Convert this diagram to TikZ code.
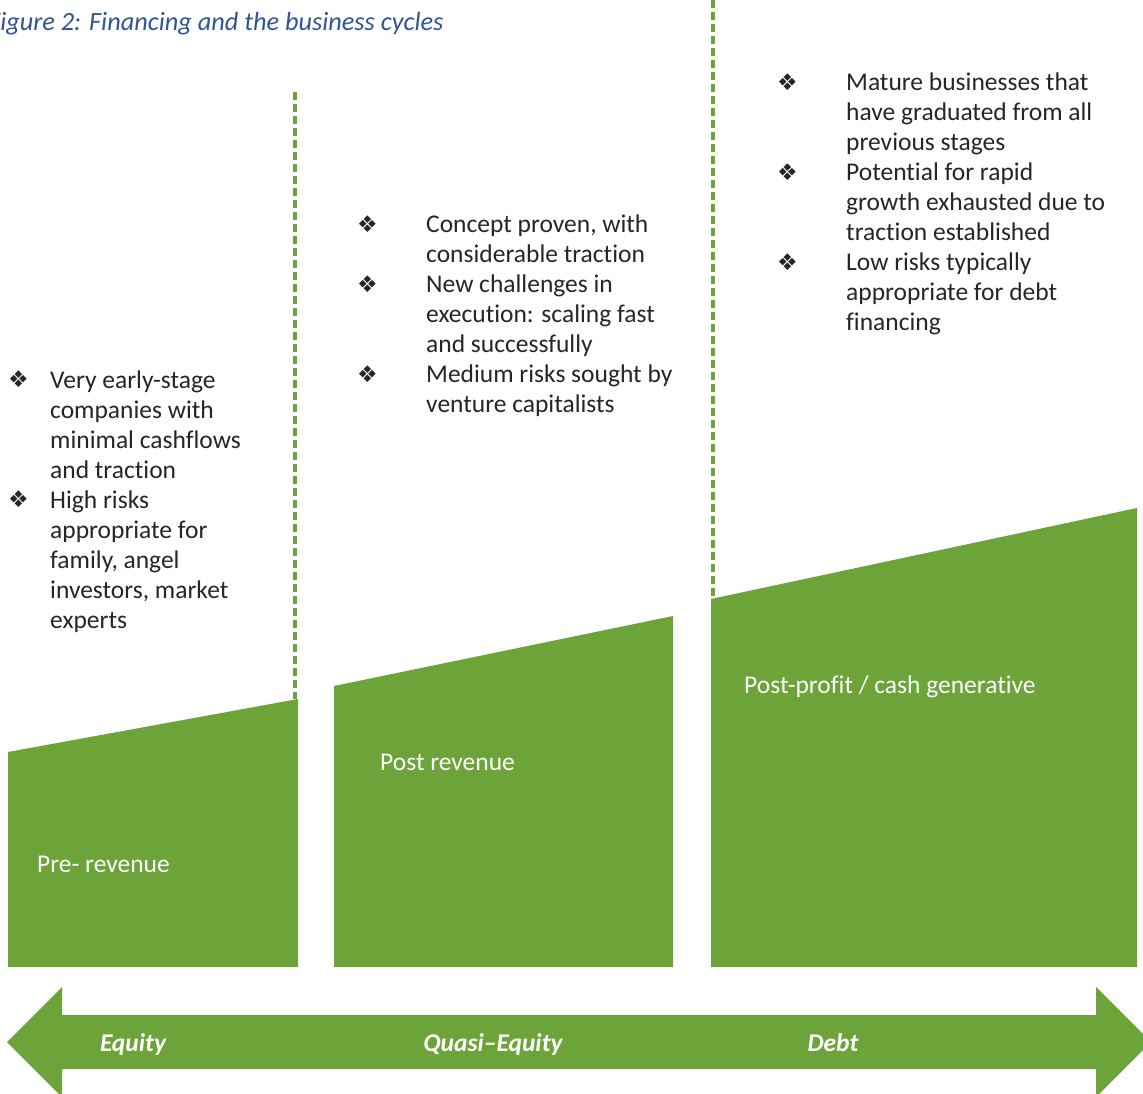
\documentclass[tikz,border=0pt]{standalone}
\usepackage{fontspec}
\setmainfont{Carlito}[Ligatures=NoCommon]
\newfontfamily\symfont{DejaVu Sans}
\definecolor{stagegreen}{HTML}{6CA43A}
\definecolor{bodytext}{HTML}{262626}
\definecolor{captionblue}{HTML}{2F5597}
% one hanging-indent bullet item; #1 = indent of the text
\newcommand{\bitem}[2]{\par\hangindent=#1\hangafter=1\noindent\makebox[#1][l]{\raisebox{0.5pt}{\symfont\fontsize{23}{23}\selectfont ❖}}#2}
\begin{document}
\begin{tikzpicture}[x=1pt,y=-1pt,
  stage/.style={fill=stagegreen,draw=none},
  divider/.style={draw=stagegreen,line width=3.2pt,dash pattern=on 8pt off 4pt},
  bullets/.style={anchor=base west,inner sep=0pt,text=bodytext,font=\fontsize{25.5}{30}\selectfont},
  stagelabel/.style={anchor=base west,inner sep=0pt,text=white,font=\fontsize{25.5}{28}\selectfont},
  bandlabel/.style={anchor=base,inner sep=0pt,text=white,font=\fontsize{25.5}{28}\selectfont\bfseries\itshape}]
\useasboundingbox (0,0) rectangle (1143,1094);
\fill[white] (0,0) rectangle (1143,1094);

% caption
\node[anchor=base west,inner sep=0pt,text=captionblue,font=\fontsize{26.3}{30}\selectfont\itshape] (caption) at (-12,31) {Figure 2: Financing and the business cycles};

% stage dividers
\draw[divider] (295,92) -- (295,699);
\draw[divider] (713,0) -- (713,640);

% stage blocks
\path[stage] (8,967) -- (8,752) -- (298,699) -- (298,967) -- cycle;
\path[stage] (334,967) -- (334,686) -- (673,616) -- (673,967) -- cycle;
\path[stage] (711,967) -- (711,599) -- (1137,508) -- (1137,967) -- cycle;

\node[stagelabel] (pre) at (37,872) {Pre- revenue};
\node[stagelabel] (post) at (380,770) {Post revenue};
\node[stagelabel] (profit) at (744,693) {Post-profit / cash generative};

% stage descriptions
\node[bullets] (early) at (8,388) {\parbox[t]{290pt}{\parskip=0pt
  \bitem{42pt}{Very early-stage\\companies with\\minimal cashflows\\and traction}
  \bitem{42pt}{High risks\\appropriate for\\family, angel\\investors, market\\experts}}};
\node[bullets] (growth) at (357,233) {\parbox[t]{330pt}{\parskip=0pt
  \bitem{69pt}{Concept proven, with\\considerable traction}
  \bitem{69pt}{New challenges in\\execution: scaling fast\\and successfully}
  \bitem{69pt}{Medium risks sought by\\venture capitalists}}};
\node[bullets] (mature) at (777,91) {\parbox[t]{364pt}{\parskip=0pt
  \bitem{69pt}{Mature businesses that\\have graduated from all\\previous stages}
  \bitem{69pt}{Potential for rapid\\growth exhausted due to\\traction established}
  \bitem{69pt}{Low risks typically\\appropriate for debt\\financing}}};

% financing band
\path[stage] (7,1042) -- (62,987) -- (62,1015) -- (1096,1015) -- (1096,987)
  -- (1151,1042) -- (1096,1097) -- (1096,1069) -- (62,1069) -- (62,1097) -- cycle;
\node[bandlabel] (equity) at (133,1051) {Equity};
\node[bandlabel] (quasi) at (493,1051) {Quasi–Equity};
\node[bandlabel] (debt) at (833,1051) {Debt};
\end{tikzpicture}
\end{document}
